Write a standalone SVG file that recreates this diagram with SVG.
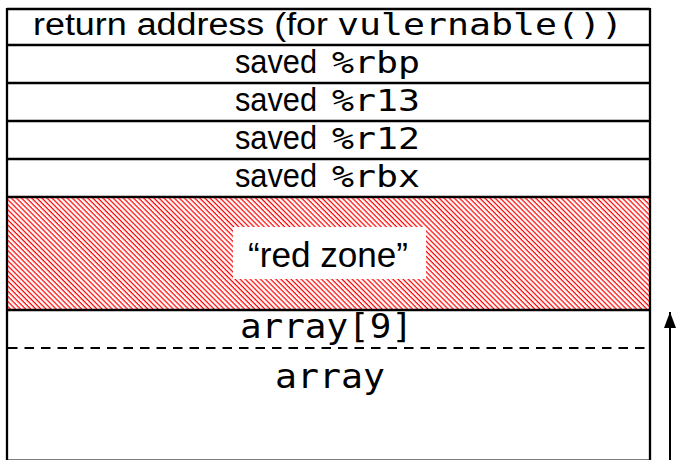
<svg xmlns="http://www.w3.org/2000/svg" width="676" height="460" viewBox="0 0 676 460">
<style>
.sep{stroke:#000;stroke-width:2.3;fill:none}
.sans{font-family:"Liberation Sans",Arial,sans-serif;fill:#000}
.mono{font-family:"DejaVu Sans Mono","Liberation Mono",monospace;fill:#000}
</style>
<defs>
<pattern id="hatch" patternUnits="userSpaceOnUse" width="3.6" height="10" patternTransform="rotate(-45)">
<line x1="1.2" y1="0" x2="1.2" y2="10" stroke="#ff0000" stroke-width="1.25"/>
</pattern>
<marker id="arrow" markerWidth="16" markerHeight="12" refX="16" refY="6" orient="auto" markerUnits="userSpaceOnUse" viewBox="0 0 16 12">
<path d="M0,0 L16,6 L0,12 Z" fill="#000"/>
</marker>
</defs>
<rect x="0" y="0" width="676" height="460" fill="#fff"/>

<g id="frame">
<line class="sep" x1="7" y1="9" x2="650" y2="9"/>
<line class="sep" x1="7" y1="8" x2="7" y2="462"/>
<line class="sep" x1="650" y1="8" x2="650" y2="462"/>
<line x1="7" y1="460.6" x2="650" y2="460.6" stroke="#000" stroke-width="2"/>
</g>

<g id="ret">
<text class="sans" x="33" y="34.5" font-size="31" textLength="295" lengthAdjust="spacingAndGlyphs">return address (for</text>
<text class="mono" x="337" y="34.5" font-size="31" textLength="286" lengthAdjust="spacingAndGlyphs">vulernable())</text>
<line class="sep" x1="7" y1="45" x2="650" y2="45"/>
</g>

<g id="rbp">
<text class="sans" x="235" y="72.5" font-size="33" textLength="82" lengthAdjust="spacingAndGlyphs">saved</text>
<text class="mono" x="332" y="72.5" font-size="31" textLength="88" lengthAdjust="spacingAndGlyphs">%rbp</text>
<line class="sep" x1="7" y1="83" x2="650" y2="83"/>
</g>

<g id="r13">
<text class="sans" x="235" y="110.5" font-size="33" textLength="82" lengthAdjust="spacingAndGlyphs">saved</text>
<text class="mono" x="332" y="110.5" font-size="31" textLength="88" lengthAdjust="spacingAndGlyphs">%r13</text>
<line class="sep" x1="7" y1="121" x2="650" y2="121"/>
</g>

<g id="r12">
<text class="sans" x="235" y="148.5" font-size="33" textLength="82" lengthAdjust="spacingAndGlyphs">saved</text>
<text class="mono" x="332" y="148.5" font-size="31" textLength="88" lengthAdjust="spacingAndGlyphs">%r12</text>
<line class="sep" x1="7" y1="159" x2="650" y2="159"/>
</g>

<g id="rbx">
<text class="sans" x="235" y="186.5" font-size="33" textLength="82" lengthAdjust="spacingAndGlyphs">saved</text>
<text class="mono" x="332" y="186.5" font-size="31" textLength="88" lengthAdjust="spacingAndGlyphs">%rbx</text>
<line class="sep" x1="7" y1="197" x2="650" y2="197"/>
</g>

<g id="redzone">
<rect x="8" y="198" width="641" height="111" fill="url(#hatch)"/>
<rect x="233" y="227" width="193" height="52" fill="#fff"/>
<text class="sans" x="248" y="267" font-size="35" textLength="160" lengthAdjust="spacingAndGlyphs">“red zone”</text>
<line class="sep" x1="7" y1="310" x2="650" y2="310"/>
</g>

<g id="array9">
<text class="mono" x="240" y="338" font-size="34" textLength="173" lengthAdjust="spacingAndGlyphs">array[9]</text>
<line x1="8" y1="348" x2="649" y2="348" stroke="#000" stroke-width="1.8" stroke-dasharray="9.5 7"/>
</g>

<g id="array">
<text class="mono" x="275" y="388" font-size="34" textLength="110" lengthAdjust="spacingAndGlyphs">array</text>
</g>

<g id="connectors">
<line x1="670" y1="462" x2="670" y2="312" stroke="#000" stroke-width="2" marker-end="url(#arrow)"/>
</g>
</svg>
